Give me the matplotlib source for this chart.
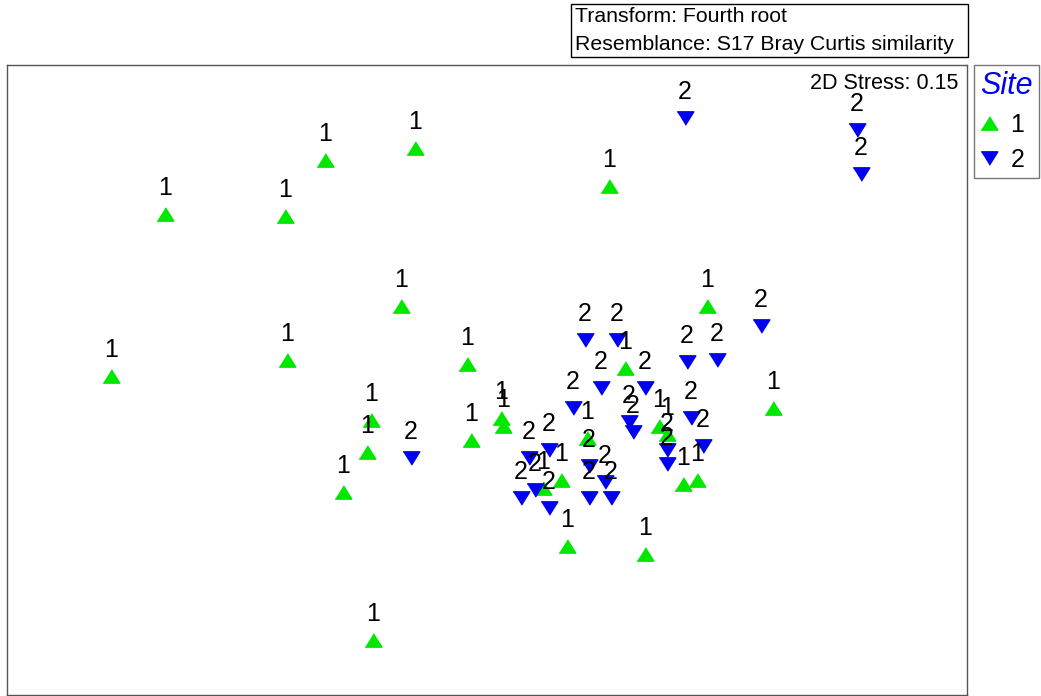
import matplotlib
matplotlib.use("Agg")
import matplotlib.pyplot as plt
from matplotlib.patches import Rectangle

plt.rcParams['font.family'] = ['Liberation Sans', 'DejaVu Sans']

# nMDS coordinates
site1_x = [-1.61, -1.01, -0.81, -0.36, 0.61, -0.43, -1.00, -1.88, -0.10, -0.58,
           -0.60, -0.72, -0.08, 0.07, 0.08, 1.10, 0.69, 1.43, 0.40, 0.79,
           -0.57, 0.50, 0.86, 0.90, 0.37, 0.28, 0.98, 1.05]
site1_y = [0.83, 0.82, 1.10, 1.16, 0.97, 0.37, 0.10, 0.02, 0.08, -0.20,
           -0.36, -0.56, -0.30, -0.19, -0.23, 0.37, 0.06, -0.14, -0.83, -0.87,
           -1.30, -0.29, -0.23, -0.27, -0.50, -0.54, -0.52, -0.50]
site2_x = [0.99, 1.85, 1.87, 1.37, -0.38, 0.49, 0.65, 1.00, 1.15, 0.57,
           0.79, 0.43, 0.71, 0.73, 1.02, 1.08, 0.90, 0.90, 0.31, 0.21,
           0.51, 0.59, 0.24, 0.17, 0.51, 0.62, 0.31]
site2_y = [1.31, 1.25, 1.03, 0.27, -0.39, 0.20, 0.20, 0.09, 0.10, -0.04,
           -0.04, -0.14, -0.21, -0.26, -0.19, -0.33, -0.35, -0.42, -0.35, -0.39,
           -0.43, -0.51, -0.55, -0.59, -0.59, -0.59, -0.64]
sites = ['1', '2']
stress = 0.15

W, H = 1041, 696
fig = plt.figure(figsize=(W / 100, H / 100), dpi=100)
ax = fig.add_axes([7 / W, 1 / H, 960 / W, 630 / H])

up = [(-1, -0.8), (1, -0.8), (0, 0.8)]
down = [(-1, 0.8), (1, 0.8), (0, -0.8)]
green, blue = '#00e800', '#0000f0'

h1, = ax.plot(site1_x, site1_y, ls='none', marker=up, ms=12, color=green, mec=green)
h2, = ax.plot(site2_x, site2_y, ls='none', marker=down, ms=12, color=blue, mec=blue)
for xs, ys, lab in [(site1_x, site1_y, sites[0]), (site2_x, site2_y, sites[1])]:
    for x, y in zip(xs, ys):
        ax.annotate(lab, (x, y), xytext=(0, 19), textcoords='offset points',
                    ha='center', va='center', fontsize=18)

ax.set_xlim(-2.4, 2.4)
ax.set_ylim(-1.575, 1.575)
ax.set_xticks([])
ax.set_yticks([])
for s in ax.spines.values():
    s.set_color('#555555')
    s.set_linewidth(1)

ax.text(0.9906, 0.97, '2D Stress: %.2f' % stress, transform=ax.transAxes,
        ha='right', va='center', fontsize=15.5)

# header box
fig.patches.append(Rectangle((571 / W, 1 - 57 / H), 397 / W, 53 / H, transform=fig.transFigure,
                             fill=False, edgecolor='black', lw=1))
fig.text(575 / W, 1 - 17 / H, 'Transform: Fourth root', fontsize=15.3, va='center')
fig.text(575 / W, 1 - 44 / H, 'Resemblance: S17 Bray Curtis similarity', fontsize=15.3, va='center')

leg = fig.legend([h1, h2], sites, loc='upper left', bbox_to_anchor=(974 / W, 1 - 65 / H),
                 title='Site', fontsize=18, frameon=True, fancybox=False, edgecolor='#555555',
                 borderaxespad=0, handlelength=0.7, handletextpad=0.5, borderpad=0.25,
                 labelspacing=0.45, alignment='left')
leg.get_title().set_color(blue)
leg.get_title().set_fontstyle('italic')
leg.get_title().set_fontsize(22)
leg.get_frame().set_linewidth(1)

fig.savefig('out.png', dpi=100)
